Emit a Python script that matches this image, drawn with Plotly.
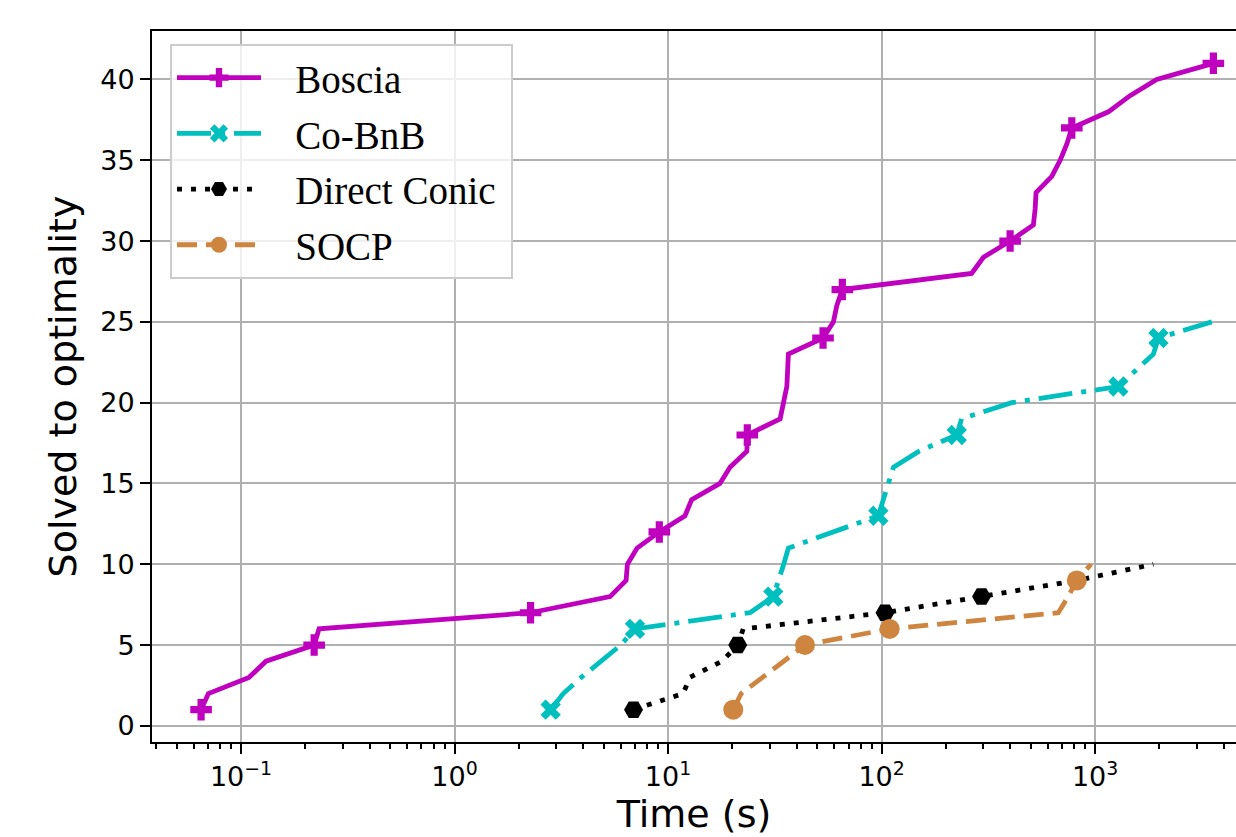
import plotly.graph_objects as go

# ---------------- data ----------------
boscia_time = [0.065, 0.0703, 0.109, 0.131, 0.22, 0.232, 2.27, 5.35, 6.36, 6.45,
               7.16, 9.1, 12.0, 12.9, 17.5, 19.5, 23.4, 23.5, 33.5, 34.7,
               36.0, 36.3, 36.6, 53.2, 59.5, 61.7, 65.5, 264, 300, 400,
               514, 524, 529, 627, 686, 737, 778, 1154, 1458, 1944, 3581]
boscia_solved = [1, 2, 3, 4, 5, 6, 7, 8, 9, 10, 11, 12, 13, 14, 15, 16, 17, 18, 19, 20,
                 21, 22, 23, 24, 25, 26, 27, 28, 29, 30, 31, 32, 33, 34, 35, 36, 37, 38,
                 39, 40, 41]
boscia_marked = [0, 4, 6, 11, 17, 23, 26, 29, 36, 40]

cobnb_time = [2.82, 3.23, 3.92, 4.89, 6.0, 7.0, 24.2, 31.1, 33.1, 34.8,
              36.6, 59.3, 96.6, 101.9, 107.6, 113.6, 150, 225, 237, 407,
              1285, 1553, 1875, 1980, 3523]
cobnb_solved = [1, 2, 3, 4, 5, 6, 7, 8, 9, 10, 11, 12, 13, 14, 15, 16, 17, 18, 19, 20,
                21, 22, 23, 24, 25]
cobnb_marked = [0, 5, 7, 12, 17, 20, 23]

conic_time = [6.89, 11.76, 12.67, 17.9, 21.2, 22.5, 103.8, 294, 824, 1875]
conic_solved = [1, 2, 3, 4, 5, 6, 7, 8, 9, 10]
conic_marked = [0, 4, 6, 7, 8]

socp_time = [20.2, 22.0, 27.7, 34.8, 43.8, 109, 673, 748, 821, 958]
socp_solved = [1, 2, 3, 4, 5, 6, 7, 8, 9, 10]
socp_marked = [0, 4, 5, 8]

x_tick_vals = [0.1, 1, 10, 100, 1000]
x_tick_text = ["10<sup>\u22121</sup>", "10<sup>0</sup>", "10<sup>1</sup>",
               "10<sup>2</sup>", "10<sup>3</sup>"]
y_tick_vals = [0, 5, 10, 15, 20, 25, 30, 35, 40]

# minor log ticks (2..9 within each decade)
minor_vals = [k * 10.0 ** e for e in range(-2, 4) for k in range(2, 10)]

series = [
    dict(name="Boscia", x=boscia_time, y=boscia_solved, marked=boscia_marked,
         color="#BF00BF", dash="solid", symbol="cross", size=18),
    dict(name="Co-BnB", x=cobnb_time, y=cobnb_solved, marked=cobnb_marked,
         color="#00BFBF", dash="34px,9px,5px,9px", symbol="x", size=18),
    dict(name="Direct Conic", x=conic_time, y=conic_solved, marked=conic_marked,
         color="#000000", dash="5px,9px", symbol="hexagon2", size=19),
    dict(name="SOCP", x=socp_time, y=socp_solved, marked=socp_marked,
         color="#CD853F", dash="20px,9px", symbol="circle", size=20),
]

LEGEND_PAD = "\u2002\u2005"   # gap between legend sample and label
LEGEND_TAIL = "\u2005"        # a little room at the right of the legend box

fig = go.Figure()
for i, s in enumerate(series):
    fig.add_trace(go.Scatter(
        x=s["x"], y=s["y"], name=LEGEND_PAD + s["name"] + LEGEND_TAIL,
        mode="lines+markers",
        legendgroup=f"g{i}",
        line=dict(color=s["color"], width=4.8, dash=s["dash"]),
        marker=dict(symbol=s["symbol"], size=s["size"], color=s["color"],
                    line=dict(width=0)),
        selectedpoints=s["marked"],
        selected=dict(marker=dict(opacity=1)),
        unselected=dict(marker=dict(opacity=0)),
    ))

axis_font = dict(family="DejaVu Sans", size=27, color="black")
title_font = dict(family="DejaVu Sans", size=38, color="black")

fig.update_layout(
    width=1236, height=837,
    margin=dict(l=152, r=0, t=31, b=95, pad=0),
    plot_bgcolor="white", paper_bgcolor="white",
    showlegend=True,
    legend=dict(x=0.0166, y=0.982, xanchor="left", yanchor="top",
                bgcolor="rgba(255,255,255,0.8)", bordercolor="#cccccc", borderwidth=2,
                font=dict(family="Liberation Serif", size=39, color="black"),
                itemwidth=84, tracegroupgap=2, traceorder="grouped"),
    xaxis=dict(type="log", range=[-1.417, 3.66], automargin=False,
               tickmode="array", tickvals=x_tick_vals, ticktext=x_tick_text,
               ticks="outside", ticklen=10, tickwidth=2, tickcolor="black",
               showline=True, linecolor="black", linewidth=2, mirror=True,
               showgrid=True, gridcolor="#b0b0b0", gridwidth=2, zeroline=False,
               tickfont=axis_font,
               minor=dict(tickvals=minor_vals, ticks="outside", ticklen=5,
                          tickwidth=1.5, tickcolor="black", showgrid=False),
               title=dict(text="Time (s)", font=title_font, standoff=7)),
    yaxis=dict(range=[-1, 43], automargin=False, tickmode="array", tickvals=y_tick_vals,
               ticks="outside", ticklen=10, tickwidth=2, tickcolor="black",
               showline=True, linecolor="black", linewidth=2, mirror=False,
               showgrid=True, gridcolor="#b0b0b0", gridwidth=2, zeroline=False,
               tickfont=axis_font,
               title=dict(text="Solved to optimality", font=title_font, standoff=12)),
)

fig.write_html(
    "out.html",
    config={"displayModeBar": False},
    post_script="document.body.style.margin='0';document.body.style.overflow='hidden';",
)
